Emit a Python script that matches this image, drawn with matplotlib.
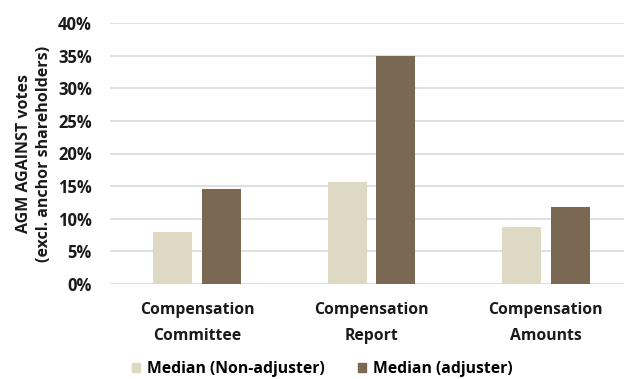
import matplotlib
matplotlib.use("Agg")
import matplotlib.pyplot as plt
from matplotlib.patches import Patch
import numpy as np

categories = ["Compensation\nCommittee", "Compensation\nReport", "Compensation\nAmounts"]
non_adjuster = [8.0, 15.6, 8.8]
adjuster = [14.6, 35.0, 11.8]
series_names = ["Median (Non-adjuster)", "Median (adjuster)"]
yticks = [0, 5, 10, 15, 20, 25, 30, 35, 40]

light = "#DDD9C3"
dark = "#7A6852"
grid = "#D9D9D9"
txt = "#1a1a1a"

plt.rcParams["font.family"] = ["Open Sans", "DejaVu Sans"]
plt.rcParams["font.weight"] = "bold"

fig = plt.figure(figsize=(6.24, 3.79), dpi=100)
W, H = 624, 379
left, right, top, bottom = 110, 633, 23, 284
ax = fig.add_axes([left / W, 1 - bottom / H, (right - left) / W, (bottom - top) / H])

x = np.arange(len(categories))
bw = 0.224
off = 0.14
ax.bar(x - off, non_adjuster, bw, color=light, zorder=3)
ax.bar(x + off, adjuster, bw, color=dark, zorder=3)

ax.set_xlim(-0.5, 2.5)
ax.set_ylim(0, 40)
ax.set_yticks(yticks)
ax.set_yticklabels([f"{v}%" for v in yticks], fontsize=12, fontweight="bold", color=txt)
ax.set_xticks(x)
ax.set_xticklabels(categories, fontsize=11.3, fontweight="bold", color=txt, linespacing=1.85)
ax.tick_params(axis="both", length=0)
ax.tick_params(axis="y", pad=13)
ax.tick_params(axis="x", pad=13)
ax.yaxis.grid(True, color=grid, linewidth=1.2, zorder=0)
ax.set_axisbelow(True)
for s in ax.spines.values():
    s.set_visible(False)

ax.set_ylabel("AGM AGAINST votes\n(excl. anchor shareholders)", fontsize=11.5,
              fontweight="bold", color=txt, linespacing=1.3)
ax.yaxis.set_label_coords(-(left - 52) / (right - left), 0.5)

handles = [Patch(color=light), Patch(color=dark)]
fig.legend(handles, series_names, loc="center left", bbox_to_anchor=(118 / W, 1 - 369 / H),
           ncol=2, frameon=False, handlelength=0.5, handleheight=0.5,
           handletextpad=0.45, columnspacing=2.1, prop={"weight": "bold", "size": 11.3})

fig.savefig("out.png", dpi=100)
